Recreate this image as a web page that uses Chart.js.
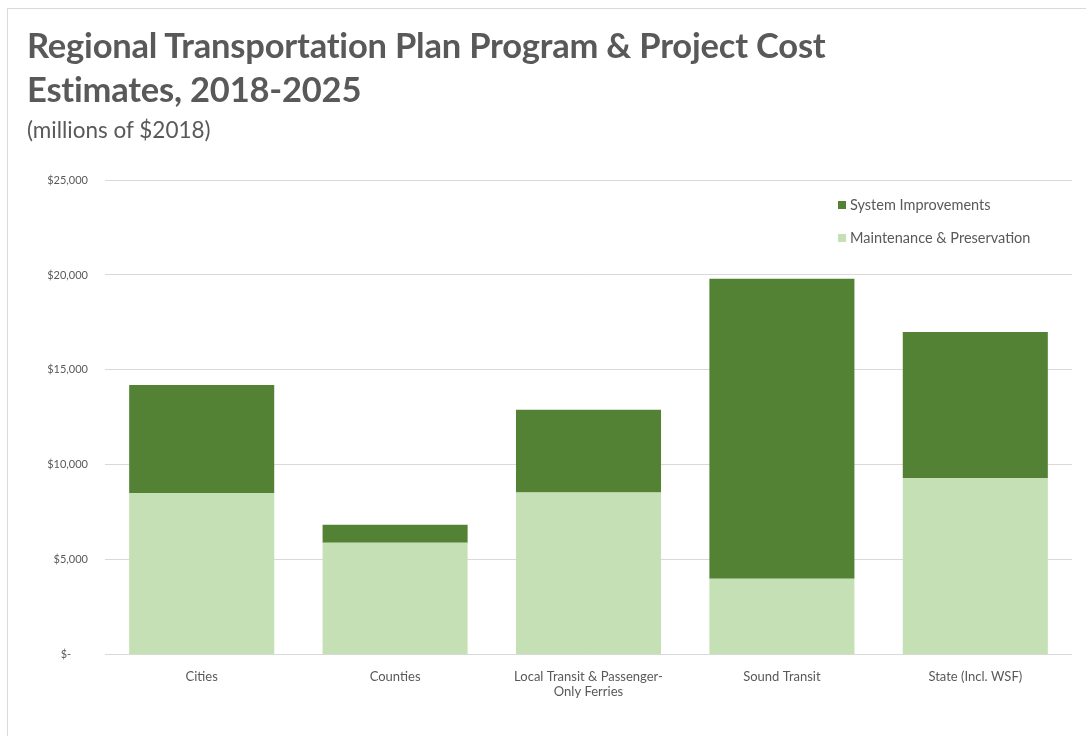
<!DOCTYPE html>
<html>
<head>
<meta charset="utf-8">
<script src="https://cdn.jsdelivr.net/npm/chart.js@4.4.1/dist/chart.umd.min.js"></script>
<style>
  html, body { margin: 0; padding: 0; background: #fff; }
  body { width: 1086px; height: 736px; position: relative; overflow: hidden; font-family: Lato, 'Open Sans', sans-serif; }
  .frame { position: absolute; left: 7px; top: 8px; right: -2px; bottom: -2px; border-top: 1px solid #d9d9d9; border-left: 1px solid #d9d9d9; }
  .title { position: absolute; left: 27px; top: 23px; color: #595959; font-weight: 700; font-size: 34.5px; line-height: 44px; letter-spacing: -0.2px; }
  .subtitle { position: absolute; left: 27px; top: 116px; color: #595959; font-size: 22.5px; }
  .wrap { position: absolute; left: 0; top: 0; width: 1086px; height: 736px; }
</style>
</head>
<body>
<div class="frame"></div>
<div class="wrap"><canvas id="costChart" width="1086" height="736"></canvas></div>
<div class="title">Regional Transportation Plan Program &amp; Project Cost<br>Estimates, 2018-2025</div>
<div class="subtitle">(millions of $2018)</div>
<script>
const categories = ['Cities', 'Counties', ['Local Transit & Passenger-', 'Only Ferries'], 'Sound Transit', 'State (Incl. WSF)'];
const maintenance = [8500, 5900, 8550, 4000, 9300];
const improvements = [5700, 950, 4350, 15800, 7700];
const yTicks = [0, 5000, 10000, 15000, 20000, 25000];

const colors = { improvements: '#548235', maintenance: '#c5e0b4', text: '#595959', grid: '#d9d9d9' };

const money = new Intl.NumberFormat('en-US', { maximumFractionDigits: 0 });

// legend drawn inside the plot, top right, like the Excel original
const insideLegend = {
  id: 'insideLegend',
  afterDraw(chart) {
    const { ctx, chartArea } = chart;
    const items = chart.data.datasets.slice().reverse();
    ctx.save();
    ctx.font = '14.5px Lato, sans-serif';
    ctx.textBaseline = 'middle';
    items.forEach((ds, idx) => {
      const x = chartArea.right - 234;
      const y = chartArea.top + 25 + idx * 33;
      ctx.fillStyle = ds.backgroundColor;
      ctx.fillRect(x, y - 4, 8, 8);
      ctx.fillStyle = colors.text;
      ctx.fillText(ds.label, x + 12, y);
    });
    ctx.restore();
  },
};

const canvas = document.getElementById('costChart');
new Chart(canvas.getContext('2d'), {
  type: 'bar',
  data: {
    labels: categories,
    datasets: [
      { label: 'Maintenance & Preservation', data: maintenance, backgroundColor: colors.maintenance },
      { label: 'System Improvements', data: improvements, backgroundColor: colors.improvements },
    ],
  },
  options: {
    responsive: false,
    animation: false,
    devicePixelRatio: 1,
    layout: { padding: { top: 180, right: 14, bottom: 30, left: 0 } },
    plugins: { legend: { display: false }, tooltip: { enabled: false } },
    datasets: { bar: { categoryPercentage: 1, barPercentage: 0.75 } },
    scales: {
      x: {
        stacked: true,
        grid: { display: false },
        border: { display: false },
        ticks: { color: colors.text, font: { family: 'Lato', size: 13 }, padding: 6, maxRotation: 0, autoSkip: false },
      },
      y: {
        stacked: true,
        min: 0,
        max: 25000,
        afterBuildTicks: (scale) => { scale.ticks = yTicks.map((value) => ({ value })); },
        afterFit: (scale) => { scale.width = 105; },
        grid: { color: colors.grid, lineWidth: 1, drawTicks: false },
        border: { display: false },
        ticks: {
          color: colors.text,
          font: { family: 'Lato', size: 11 },
          padding: 17,
          callback: (value) => (value === 0 ? '$-      ' : `$${money.format(value)}`),
        },
      },
    },
  },
  plugins: [insideLegend],
});
</script>
</body>
</html>
